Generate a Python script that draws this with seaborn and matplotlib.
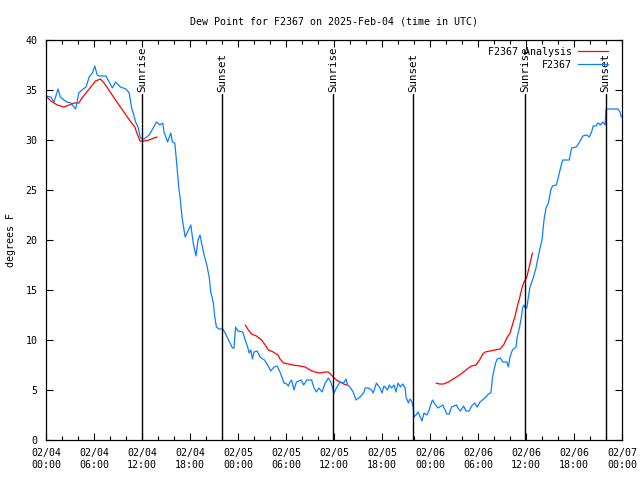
import numpy as np
import pandas as pd
import matplotlib
matplotlib.use("Agg")
import matplotlib.pyplot as plt
import matplotlib.dates as mdates
import seaborn as sns

sns.set_theme(style="ticks")
plt.rcParams['font.family'] = ['DejaVu Sans Mono']
plt.rcParams['font.size'] = 7.2
plt.rcParams['text.color'] = 'black'
plt.rcParams['axes.labelcolor'] = 'black'
plt.rcParams['xtick.color'] = 'black'
plt.rcParams['ytick.color'] = 'black'

# time axis in hours since 2025-02-04 00:00 UTC
start = pd.Timestamp("2025-02-04 00:00")

# station observations (dew point, F)
obs_hours = [0.0, 0.6, 1.0, 1.5, 1.8, 2.25, 2.6, 3.1, 3.5, 3.7, 4.1, 4.5, 5.0, 5.4, 5.8, 6.1, 6.4, 6.6,
             7.5, 7.9, 8.3, 8.7, 9.3, 10.0, 10.4, 10.7, 10.9, 11.2, 11.5, 11.8, 12.25, 12.9, 13.4, 13.8,
             14.25, 14.6, 14.75, 15.2, 15.6, 15.8, 16.1, 16.3, 16.6, 16.8, 17.0, 17.25, 17.4, 17.8, 18.1,
             18.4, 18.75, 19.0, 19.25, 19.7, 20.1, 20.4, 20.6, 20.9, 21.1, 21.3, 21.6, 22.1, 22.4, 22.7,
             23.0, 23.3, 23.5, 23.7, 24.0, 24.6, 24.9, 25.2, 25.4, 25.6, 25.8, 26.0, 26.4, 26.75, 27.3,
             27.7, 28.1, 28.5, 28.9, 29.3, 29.75, 30.1, 30.3, 30.5, 30.7, 31.0, 31.3, 31.9, 32.2, 32.6,
             33.2, 33.5, 33.8, 34.1, 34.5, 34.9, 35.3, 35.6, 35.9, 36.0, 36.3, 36.75, 37.2, 37.5, 37.7,
             38.0, 38.4, 38.75, 39.25, 39.7, 39.9, 40.3, 40.7, 40.9, 41.3, 41.75, 42.0, 42.25, 42.7, 42.9,
             43.2, 43.5, 43.75, 44.0, 44.3, 44.6, 44.9, 45.0, 45.3, 45.5, 45.7, 45.9, 46.0, 46.25, 46.5,
             47.0, 47.25, 47.6, 47.9, 48.0, 48.3, 48.6, 49.0, 49.6, 50.1, 50.4, 50.7, 51.3, 51.5, 51.8,
             52.2, 52.5, 52.9, 53.2, 53.6, 53.9, 54.25, 54.7, 55.0, 55.3, 55.6, 55.7, 55.8, 56.0, 56.2,
             56.4, 56.8, 57.1, 57.6, 57.8, 58.0, 58.3, 58.75, 58.9, 59.2, 59.4, 59.6, 59.75, 59.9, 60.1,
             60.3, 60.5, 60.9, 61.25, 61.5, 61.75, 62.0, 62.25, 62.5, 62.8, 63.1, 63.3, 63.8, 64.2, 64.5,
             64.6, 65.4, 65.7, 66.3, 66.7, 67.1, 67.6, 67.9, 68.2, 68.4, 68.75, 69.0, 69.3, 69.6, 69.9,
             70.0, 71.5, 71.75, 71.9]
obs_dewpt = [34.4, 34.3, 33.8, 35.1, 34.3, 34.0, 33.8, 33.7, 33.3, 33.1, 34.7, 35.0, 35.3, 36.3, 36.7, 37.4, 36.5, 36.4,
             36.4, 35.8, 35.2, 35.8, 35.3, 35.1, 34.7, 33.2, 32.7, 31.8, 31.3, 30.2, 30.1, 30.5, 31.2, 31.8,
             31.5, 31.7, 30.8, 29.8, 30.7, 29.8, 29.7, 28.0, 25.2, 24.0, 22.3, 21.0, 20.3, 21.0, 21.5,
             19.7, 18.4, 20.0, 20.5, 18.7, 17.5, 16.3, 14.8, 13.8, 12.3, 11.3, 11.1, 11.1, 10.7, 10.2,
             9.7, 9.2, 9.2, 11.3, 10.9, 10.8, 10.0, 9.3, 8.7, 9.0, 8.1, 8.8, 8.9, 8.3, 8.0,
             7.5, 6.9, 7.3, 7.4, 6.7, 5.7, 5.6, 5.4, 5.8, 6.0, 5.0, 5.8, 6.0, 5.5, 6.0,
             6.0, 5.2, 4.8, 5.2, 4.8, 5.7, 6.2, 5.8, 5.0, 4.7, 5.2, 5.8, 5.7, 6.1, 5.5,
             5.3, 4.8, 4.0, 4.3, 4.7, 5.2, 5.2, 5.0, 4.7, 5.7, 5.2, 4.7, 5.4, 5.0, 5.5,
             5.2, 5.5, 4.8, 5.7, 5.3, 5.6, 5.2, 4.3, 3.7, 4.1, 3.9, 3.3, 2.3, 2.5, 2.8,
             1.9, 2.7, 2.5, 3.0, 3.3, 4.0, 3.6, 3.2, 3.5, 2.6, 2.6, 3.3, 3.5, 3.2, 2.9,
             3.4, 2.9, 2.9, 3.4, 3.7, 3.3, 3.8, 4.1, 4.3, 4.6, 4.7, 5.3, 6.2, 7.0, 7.7,
             8.1, 8.2, 7.8, 7.8, 7.3, 8.3, 9.0, 9.3, 10.3, 11.3, 12.2, 13.3, 13.5, 13.2, 13.2,
             14.3, 15.3, 16.2, 17.2, 18.2, 19.2, 20.0, 22.0, 23.2, 23.7, 25.0, 25.4, 25.5, 26.8, 27.8,
             28.0, 28.0, 29.2, 29.3, 29.8, 30.4, 30.5, 30.3, 30.8, 31.4, 31.4, 31.7, 31.5, 31.8, 31.5,
             33.1, 33.1, 32.8, 32.3]

# analysis runs (three separate pieces)
ana1_hours = [0.0, 0.6, 1.4, 2.25, 2.9, 3.5, 4.1, 4.5, 5.0, 5.6, 6.2, 6.8, 7.25, 7.7, 8.1, 8.7, 9.3,
              10.0, 10.6, 11.1, 11.4, 11.75, 12.25, 12.9, 13.5, 13.9]
ana1_dewpt = [34.4, 33.9, 33.5, 33.3, 33.5, 33.7, 33.7, 34.2, 34.7, 35.3, 35.9, 36.1, 35.7, 35.2, 34.7, 34.0, 33.3,
              32.5, 31.8, 31.3, 30.6, 29.9, 29.9, 30.0, 30.2, 30.3]
ana2_hours = [24.9, 25.3, 25.7, 26.3, 26.95, 27.4, 27.8, 28.4, 29.0, 29.25, 29.7, 30.3, 30.9, 31.75,
              32.4, 33.0, 33.6, 34.25, 34.9, 35.3, 35.9, 36.3, 37.2, 37.6]
ana2_dewpt = [11.5, 11.0, 10.6, 10.4, 10.0, 9.5, 9.0, 8.8, 8.5, 8.1, 7.7, 7.6, 7.5, 7.4,
              7.3, 7.0, 6.8, 6.7, 6.8, 6.8, 6.3, 6.0, 5.6, 5.5]
ana3_hours = [48.75, 49.2, 49.7, 50.3, 50.9, 51.5, 52.2, 52.8, 53.2, 53.75, 54.2, 54.6, 54.9, 55.5,
              56.1, 56.75, 57.2, 57.6, 58.0, 58.3, 58.6, 58.9, 59.2, 59.5, 59.75, 60.1, 60.4, 60.8]
ana3_dewpt = [5.7, 5.6, 5.6, 5.8, 6.1, 6.4, 6.8, 7.2, 7.4, 7.5, 8.0, 8.6, 8.8, 8.9,
              9.0, 9.1, 9.5, 10.2, 10.7, 11.5, 12.3, 13.3, 14.2, 15.2, 15.8, 16.3, 17.3, 18.7]

sun_hours = [12.03, 21.98, 35.93, 45.93, 59.92, 69.95]
sun_labels = ["Sunrise", "Sunset", "Sunrise", "Sunset", "Sunrise", "Sunset"]


def to_time(hours):
    return start + pd.to_timedelta(hours, unit="h")


fig = plt.figure(figsize=(6.4, 4.8), dpi=100)
ax = fig.add_axes([46 / 640, 40 / 480, 576 / 640, 400 / 480])

obs = pd.DataFrame({"time": to_time(obs_hours), "dewpt": obs_dewpt})
ana_parts = [(ana1_hours, ana1_dewpt), (ana2_hours, ana2_dewpt), (ana3_hours, ana3_dewpt)]

for i, (h, v) in enumerate(ana_parts):
    df = pd.DataFrame({"time": to_time(h), "dewpt": v})
    sns.lineplot(data=df, x="time", y="dewpt", ax=ax, color="#ff0000", linewidth=0.9,
                 label="F2367 Analysis" if i == 0 else None, legend=False)
sns.lineplot(data=obs, x="time", y="dewpt", ax=ax, color="#0a80ff", linewidth=0.9,
             label="F2367", legend=False)

# sunrise / sunset markers
for h, lab in zip(sun_hours, sun_labels):
    t = to_time(h)
    ax.plot([t, t], [0, 34.6], color="black", linewidth=1.0)
    ax.text(t, 34.75, lab, rotation=90, ha="center", va="bottom", fontsize=7.8)

ax.set_xlim(to_time(0), to_time(72))
ax.set_ylim(0, 40)
ax.yaxis.set_major_locator(plt.MultipleLocator(5))
ax.xaxis.set_major_locator(mdates.HourLocator(byhour=[0, 6, 12, 18]))
ax.xaxis.set_minor_locator(mdates.HourLocator(byhour=range(0, 24, 2)))
ax.xaxis.set_major_formatter(mdates.DateFormatter("%m/%d\n%H:%M"))
ax.tick_params(which="both", direction="in", top=True, right=True, color="black", width=0.8,
               labelsize=7.2, pad=6)
ax.tick_params(which="major", length=5)
ax.tick_params(which="minor", length=3)
for s in ax.spines.values():
    s.set_color("black")
    s.set_linewidth(0.9)

ax.set_xlabel("")
ax.set_ylabel("degrees F", fontsize=7.2, labelpad=7)
ax.set_title("Dew Point for F2367 on 2025-Feb-04 (time in UTC)", fontsize=7.2, pad=11)

ax.legend(loc="upper right", frameon=False, markerfirst=False, fontsize=7.2,
          handlelength=3.0, borderaxespad=0.1, labelspacing=0.3, handletextpad=0.6,
          bbox_to_anchor=(0.985, 0.995))

fig.savefig("out.png", dpi=100)
